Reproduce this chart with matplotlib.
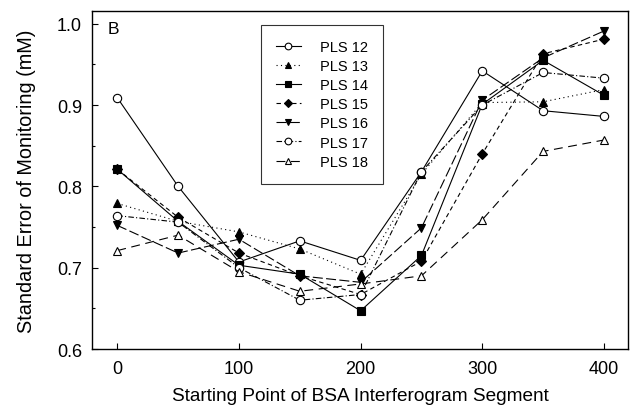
import matplotlib
matplotlib.use("Agg")
import matplotlib.pyplot as plt
from matplotlib.ticker import MultipleLocator

plt.rcParams['font.family'] = ['Liberation Sans', 'DejaVu Sans']

x = [0, 50, 100, 150, 200, 250, 300, 350, 400]
pls12 = [0.909, 0.800, 0.707, 0.733, 0.709, 0.818, 0.942, 0.893, 0.886]
pls13 = [0.779, 0.757, 0.744, 0.723, 0.692, 0.815, 0.903, 0.904, 0.919]
pls14 = [0.821, 0.757, 0.703, 0.692, 0.647, 0.715, 0.901, 0.955, 0.912]
pls15 = [0.821, 0.762, 0.718, 0.690, 0.667, 0.708, 0.840, 0.963, 0.981]
pls16 = [0.752, 0.718, 0.735, 0.690, 0.682, 0.749, 0.906, 0.958, 0.991]
pls17 = [0.764, 0.756, 0.700, 0.660, 0.667, 0.818, 0.900, 0.940, 0.933]
pls18 = [0.721, 0.740, 0.695, 0.671, 0.680, 0.690, 0.759, 0.843, 0.857]

labels = ['PLS 12', 'PLS 13', 'PLS 14', 'PLS 15', 'PLS 16', 'PLS 17', 'PLS 18']
series = [pls12, pls13, pls14, pls15, pls16, pls17, pls18]
styles = [
    dict(ls='-', marker='o', mfc='white'),
    dict(ls=(0, (1, 3)), marker='^', mfc='black'),
    dict(ls='-', marker='s', mfc='black'),
    dict(ls=(0, (4, 3)), marker='D', mfc='black'),
    dict(ls=(0, (9, 3)), marker='v', mfc='black'),
    dict(ls=(0, (5, 2, 1, 2)), marker='o', mfc='white'),
    dict(ls=(0, (8, 5)), marker='^', mfc='white'),
]
msizes = [6, 6, 6, 5.5, 6, 6, 6]

fig = plt.figure(figsize=(6.3, 4.1), dpi=100)
ax = fig.add_axes([0.1456, 0.1463, 0.8517, 0.8252])

for y, lab, st, ms in zip(series, labels, styles, msizes):
    ax.plot(x, y, color='black', lw=0.8, mec='black', mew=0.8, ms=ms,
            label=lab, **st)

ax.set_xlim(-21, 420)
ax.set_ylim(0.6, 1.016)
ax.set_xticks([0, 100, 200, 300, 400])
ax.set_yticks([0.6, 0.7, 0.8, 0.9, 1.0])
ax.set_yticklabels(['0.6', '0.7', '0.8', '0.9', '1.0'])
ax.yaxis.set_minor_locator(MultipleLocator(0.05))
ax.tick_params(axis='both', which='both', direction='in', top=False, right=False,
               labelsize=13, width=0.8)
ax.tick_params(axis='x', which='major', length=4, pad=8)
ax.tick_params(axis='y', which='major', length=4, pad=7)
ax.tick_params(axis='y', which='minor', length=2.5)
for sp in ax.spines.values():
    sp.set_linewidth(1.0)

ax.set_xlabel('Starting Point of BSA Interferogram Segment', fontsize=13.7, labelpad=7)
ax.set_ylabel('Standard Error of Monitoring (mM)', fontsize=14.3, labelpad=15)
ax.text(0.03, 0.97, 'B', transform=ax.transAxes, fontsize=12.5,
        va='top', ha='left')

leg = ax.legend(loc='upper left', bbox_to_anchor=(260.7 / 630, 1 - 25.7 / 410),
                bbox_transform=fig.transFigure, fontsize=10.5, frameon=True,
                fancybox=False, edgecolor='black', handlelength=1.7,
                handletextpad=1.3, labelspacing=0.35, borderpad=1.05,
                borderaxespad=0, markerscale=0.8)
leg.get_frame().set_linewidth(0.8)

fig.savefig('out.png', dpi=100)
